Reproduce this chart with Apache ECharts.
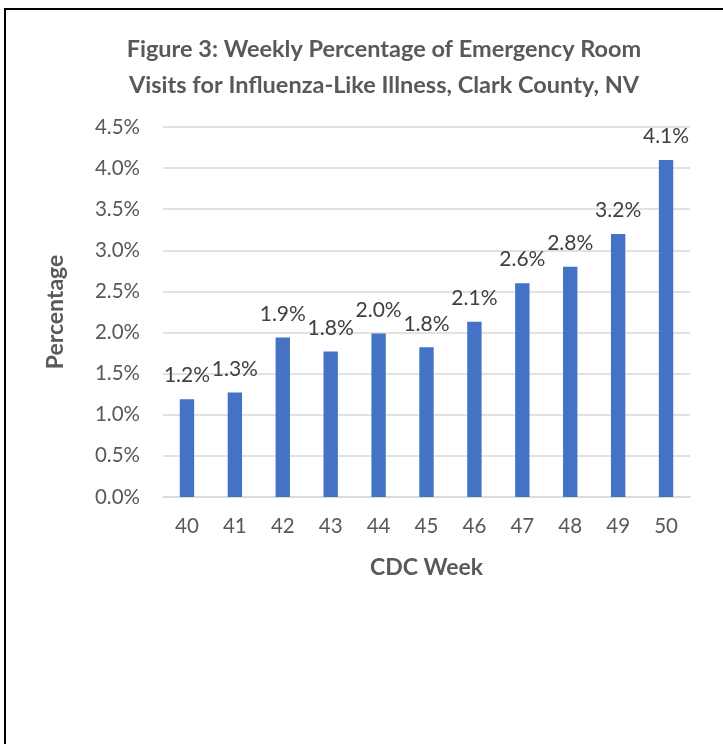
<!DOCTYPE html>
<html>
<head>
<meta charset="utf-8">
<script src="https://cdn.jsdelivr.net/npm/echarts@6/dist/echarts.min.js"></script>
<style>
  html, body { margin: 0; padding: 0; background: #fff; }
  #frame {
    position: absolute;
    left: 4px;
    top: 8px;
    width: 719px;
    height: 736px;
    border-left: 2px solid #000;
    border-top: 2px solid #000;
    box-sizing: border-box;
  }
  #chart { position: absolute; left: 0; top: 0; width: 723px; height: 744px; }
</style>
</head>
<body>
<div id="frame"></div>
<div id="chart"></div>
<script>
// CDC weeks and the ILI percentage
const weeks = ['40', '41', '42', '43', '44', '45', '46', '47', '48', '49', '50']
const iliPercent = [1.19, 1.27, 1.94, 1.77, 1.99, 1.82, 2.13, 2.60, 2.80, 3.20, 4.10]

const fontFamily = 'Lato, "Open Sans", sans-serif'
const textGray = '#595959'

const chart = echarts.init(document.getElementById('chart'))

chart.setOption({
  animation: false,
  title: {
    text: 'Figure 3: Weekly Percentage of Emergency Room\nVisits for Influenza-Like Illness, Clark County, NV',
    left: 379,
    top: 26,
    textAlign: 'center',
    textStyle: {
      fontFamily,
      fontSize: 23.5,
      fontWeight: 'bold',
      color: textGray,
      lineHeight: 36
    }
  },
  grid: {
    left: 163,
    right: 33,
    top: 127,
    bottom: 247
  },
  xAxis: {
    type: 'category',
    data: weeks,
    name: 'CDC Week',
    nameLocation: 'middle',
    nameGap: 59,
    nameTextStyle: {
      fontFamily,
      fontSize: 23,
      fontWeight: 'bold',
      color: textGray
    },
    axisLine: { lineStyle: { color: '#d9d9d9', width: 1.5 } },
    axisTick: { show: false },
    axisLabel: {
      fontFamily,
      fontSize: 20.5,
      color: textGray,
      margin: 19
    }
  },
  yAxis: {
    type: 'value',
    min: 0,
    max: 4.5,
    interval: 0.5,
    name: 'Percentage',
    nameLocation: 'middle',
    nameRotate: 90,
    nameGap: 96,
    nameTextStyle: {
      fontFamily,
      fontSize: 23,
      fontWeight: 'bold',
      color: textGray
    },
    axisLine: { show: false },
    axisTick: { show: false },
    splitLine: { lineStyle: { color: '#d9d9d9', width: 1.5 } },
    axisLabel: {
      fontFamily,
      fontSize: 20.5,
      color: textGray,
      margin: 23,
      formatter: (v) => v.toFixed(1) + '%'
    }
  },
  series: [
    {
      type: 'bar',
      data: iliPercent,
      barCategoryGap: '70%',
      itemStyle: { color: '#4472c4' },
      label: {
        show: true,
        position: 'top',
        distance: 13,
        fontFamily,
        fontSize: 21,
        color: '#404040',
        formatter: (p) => p.value.toFixed(1) + '%'
      }
    }
  ]
})

window.addEventListener('resize', () => chart.resize())
</script>
</body>
</html>
